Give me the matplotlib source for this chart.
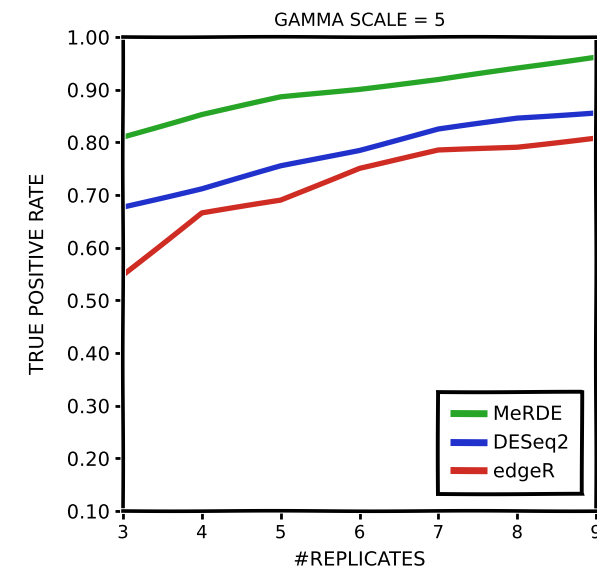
import matplotlib

matplotlib.use("Agg")
import matplotlib.pyplot as plt

replicates = [3, 4, 5, 6, 7, 8, 9]
merde = [0.810, 0.853, 0.886, 0.901, 0.919, 0.941, 0.962]
deseq2 = [0.677, 0.712, 0.755, 0.785, 0.825, 0.846, 0.856]
edger = [0.548, 0.666, 0.690, 0.751, 0.785, 0.791, 0.808]

series = [("MeRDE", merde, "#27a527"),
          ("DESeq2", deseq2, "#2132cc"),
          ("edgeR", edger, "#cf2c24")]
y_ticks = [0.1, 0.2, 0.3, 0.4, 0.5, 0.6, 0.7, 0.8, 0.9, 1.0]

W, H = 597, 576

with plt.xkcd(scale=0.25, length=200, randomness=1):
    plt.rcParams["font.family"] = ["DejaVu Sans"]
    fig = plt.figure(figsize=(W / 100, H / 100), dpi=100)
    ax = fig.add_axes([123 / W, (H - 511) / H, 473 / W, 474 / H])

    for name, vals, col in series:
        ax.plot(replicates, vals, color=col, lw=3.8, label=name,
                solid_capstyle="butt")

    ax.set_xlim(3, 9)
    ax.set_ylim(0.1, 1.0)
    ax.set_xticks(replicates)
    ax.set_xticklabels([str(r) for r in replicates], fontsize=13)
    ax.set_yticks(y_ticks)
    ax.set_yticklabels(["{:.2f}".format(v) for v in y_ticks], fontsize=14)
    ax.tick_params(direction="out", length=6, width=2)
    for s in ax.spines.values():
        s.set_linewidth(2.6)
        s.set_visible(True)

    ax.set_title("GAMMA SCALE = 5", fontsize=13, pad=8)
    ax.set_xlabel("#REPLICATES", fontsize=14, labelpad=6)
    ax.set_ylabel("TRUE POSITIVE RATE", fontsize=14, labelpad=14)

    leg = ax.legend(loc="lower right", bbox_to_anchor=(0.970, 0.036),
                    borderaxespad=0, fontsize=14, handlelength=1.9,
                    handletextpad=0.3, borderpad=0.65, labelspacing=0.5,
                    fancybox=False, framealpha=1)
    leg.get_frame().set_edgecolor("black")
    leg.get_frame().set_linewidth(2.8)
    for h in leg.get_lines():
        h.set_linewidth(5)

    fig.savefig("out.png", dpi=100)
